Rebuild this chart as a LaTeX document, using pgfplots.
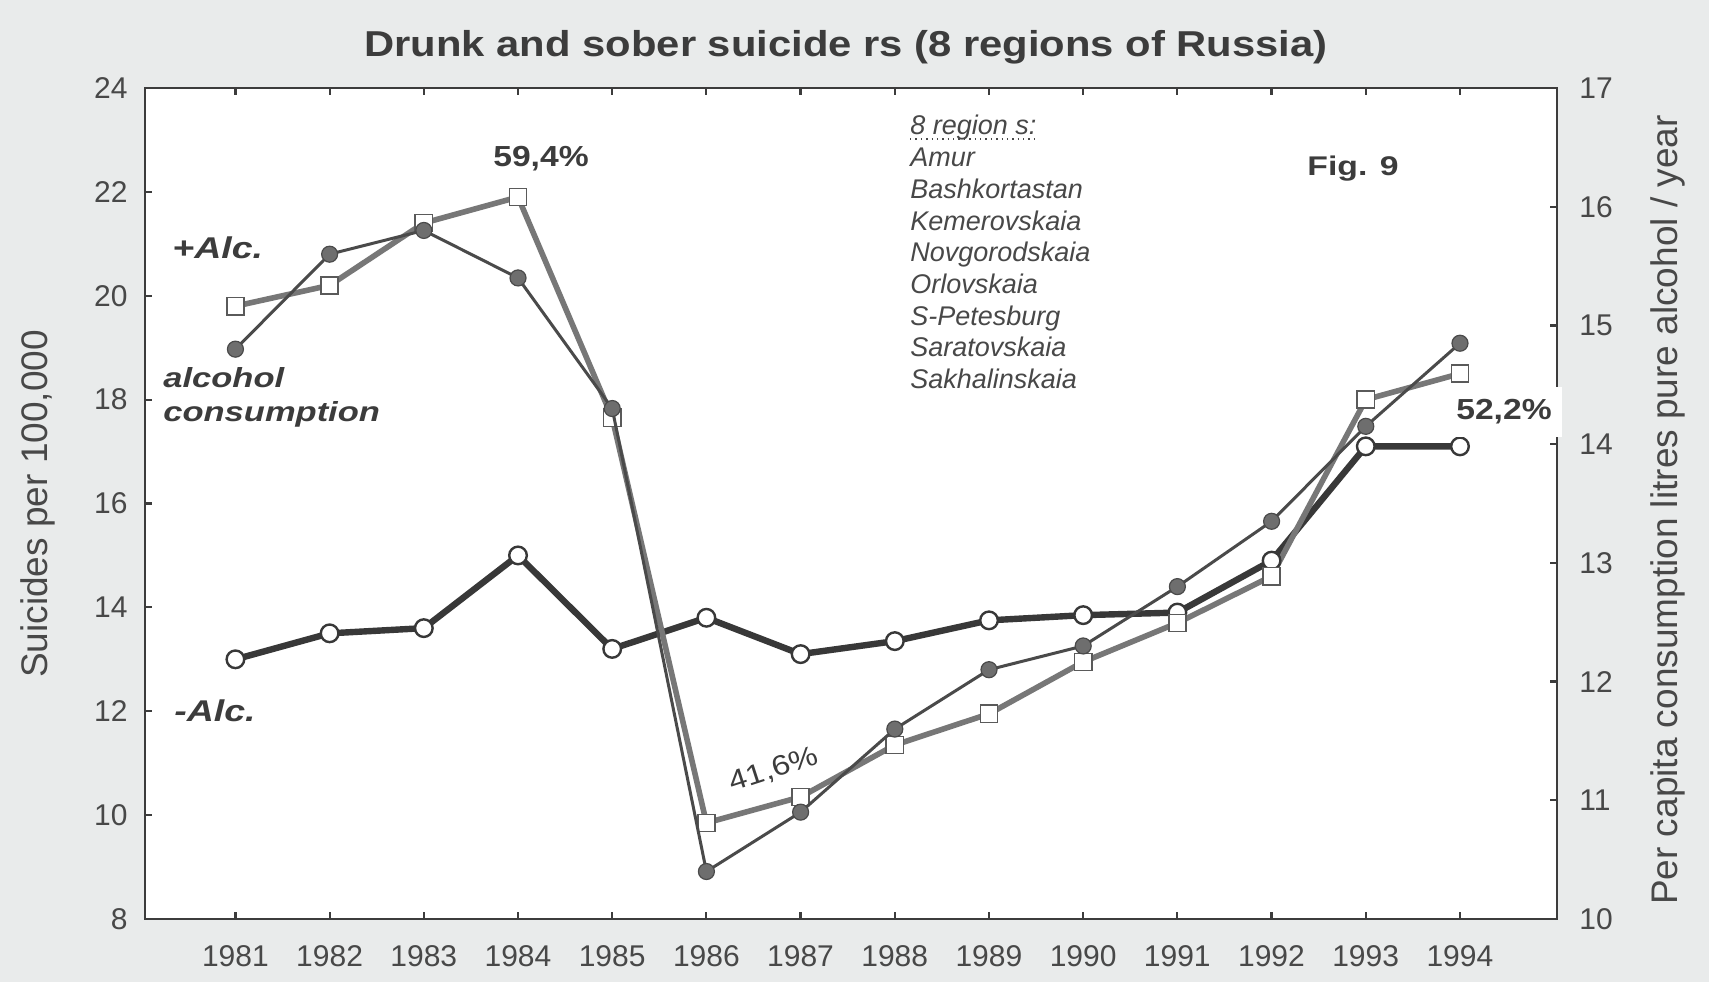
\documentclass[border=0pt]{standalone}
\usepackage{fontspec}
\setmainfont{Liberation Sans}
\newfontfamily\titlefont{Liberation Sans}[FakeStretch=1.16]
\newfontfamily\annfont{Liberation Sans}[FakeStretch=1.25]
\usepackage{pgfplots}
\usepackage{pgfplotstable}
\pgfplotsset{compat=1.18}

\definecolor{bggrey}{HTML}{E9EBEB}
\definecolor{ink}{HTML}{3C3C3C}
\definecolor{sober}{HTML}{383838}
\definecolor{drunk}{HTML}{777777}
\definecolor{sqedge}{HTML}{5A5A5A}
\definecolor{alc}{HTML}{4A4A4A}
\definecolor{alcfill}{HTML}{6E6E6E}
\definecolor{txt}{HTML}{484848}

% year, suicides sober (-Alc.), suicides drunk (+Alc.), alcohol consumption (right axis)
\pgfplotstableread{
year sober drunk alcohol
1981 13.0  19.8  14.8
1982 13.5  20.2  15.6
1983 13.6  21.4  15.8
1984 15.0  21.9  15.4
1985 13.2  17.65 14.3
1986 13.8  9.85  10.4
1987 13.1  10.35 10.9
1988 13.35 11.35 11.6
1989 13.75 11.95 12.1
1990 13.85 12.95 12.3
1991 13.9  13.7  12.8
1992 14.9  14.6  13.35
1993 17.1  18.0  14.15
1994 17.1  18.5  14.85
}\data

\pgfplotsset{
  frame/.style={
    scale only axis, width=706bp, height=415.5bp,
    at={(72.5bp,31.5bp)}, anchor=south west,
    xmin=1980.04, xmax=1995.03,
    major tick length=3.5bp,
    axis line style={ink, line width=1.1bp},
    every tick/.append style={ink, line width=1.1bp},
    tick label style={font=\fontsize{15bp}{18bp}\selectfont, text=txt, inner sep=0pt},
    /pgf/number format/assume math mode=true,
  }
}

\newcommand\annf{\annfont\bfseries\itshape}

\begin{document}
\begin{tikzpicture}
\path[use as bounding box, fill=bggrey] (0,0) rectangle (854.5bp,491bp);

\begin{axis}[frame,
  axis background/.style={fill=white},
  ymin=8, ymax=24, ytick={8,10,...,24},
  xtick={1981,...,1994}, xtick pos=both, ytick pos=left,
  tick align=inside,
  x tick label style={yshift=-13bp, /pgf/number format/1000 sep={}},
  y tick label style={xshift=-8.5bp},
]
\addplot[sober, line width=3.2bp, mark=*, mark size=4.4bp,
  mark options={fill=white, draw=sober, line width=1.2bp}]
  table[x=year, y=sober] {\data};
\addplot[drunk, line width=2.8bp, mark=square*, mark size=4.3bp,
  mark options={fill=white, draw=sqedge, line width=0.8bp}]
  table[x=year, y=drunk] {\data};
\end{axis}

\begin{axis}[frame,
  ymin=10, ymax=17, ytick={10,...,17},
  axis y line*=right, axis x line=none,
  tick align=inside,
  y tick label style={xshift=11bp},
]
\addplot[alc, line width=1.5bp, mark=*, mark size=4bp,
  mark options={fill=alcfill, draw=alc, line width=0.6bp}]
  table[x=year, y=alcohol] {\data};
\end{axis}

% titles and axis labels
\node[anchor=base, text=ink, inner sep=0pt] at (423bp,462.5bp)
  {\titlefont\bfseries\fontsize{18bp}{22bp}\selectfont Drunk and sober suicide rs (8 regions of Russia)};
\node[rotate=90, text=txt, inner sep=0pt] at (19bp,239bp)
  {\fontsize{18.5bp}{22bp}\selectfont Suicides per 100,000};
\node[rotate=90, text=txt, inner sep=0pt] at (834bp,236bp)
  {\fontsize{18.5bp}{22bp}\selectfont Per capita consumption litres pure alcohol / year};

% annotations
\node[anchor=base west, text=ink, inner sep=0pt] at (86bp,361.5bp)
  {\annf\fontsize{15bp}{18bp}\selectfont +Alc.};
\node[anchor=base west, text=ink, inner sep=0pt] at (81.5bp,297bp)
  {\annf\fontsize{13.8bp}{16bp}\selectfont alcohol};
\node[anchor=base west, text=ink, inner sep=0pt] at (81.5bp,280bp)
  {\annf\fontsize{13.8bp}{16bp}\selectfont consumption};
\node[anchor=base west, text=ink, inner sep=0pt] at (87bp,130bp)
  {\annf\fontsize{15bp}{18bp}\selectfont -Alc.};
\node[anchor=base, text=ink, inner sep=0pt] at (676.5bp,403bp)
  {\annfont\bfseries\fontsize{13.5bp}{16bp}\selectfont Fig. 9};
\node[anchor=base, text=ink, inner sep=0pt] at (270.5bp,407.5bp)
  {\titlefont\bfseries\fontsize{14.5bp}{17bp}\selectfont 59,4\%};
\node[rotate=18, text=ink, inner sep=0pt] at (387bp,106bp)
  {\titlefont\fontsize{14bp}{17bp}\selectfont 41,6\%};
\node[fill=white, text=ink, inner xsep=5bp, inner ysep=0pt, minimum height=25bp] at (752bp,285bp)
  {\titlefont\bfseries\fontsize{14.5bp}{17bp}\selectfont 52,2\%};

% list of regions
\node[anchor=base west, text=txt, inner sep=0pt] (r0) at (455bp,423.5bp)
  {\itshape\fontsize{13.5bp}{16bp}\selectfont 8 region s:};
\draw[txt, dotted, line width=0.7bp] ([yshift=-2bp]r0.base west) -- ([yshift=-2bp]r0.base east);
\foreach \name [count=\i] in {Amur,Bashkortastan,Kemerovskaia,Novgorodskaia,Orlovskaia,S-Petesburg,Saratovskaia,Sakhalinskaia}
  \node[anchor=base west, text=txt, inner sep=0pt] at (455bp,{423.5bp-\i*15.85bp})
    {\itshape\fontsize{13.5bp}{16bp}\selectfont \name};
\end{tikzpicture}
\end{document}
